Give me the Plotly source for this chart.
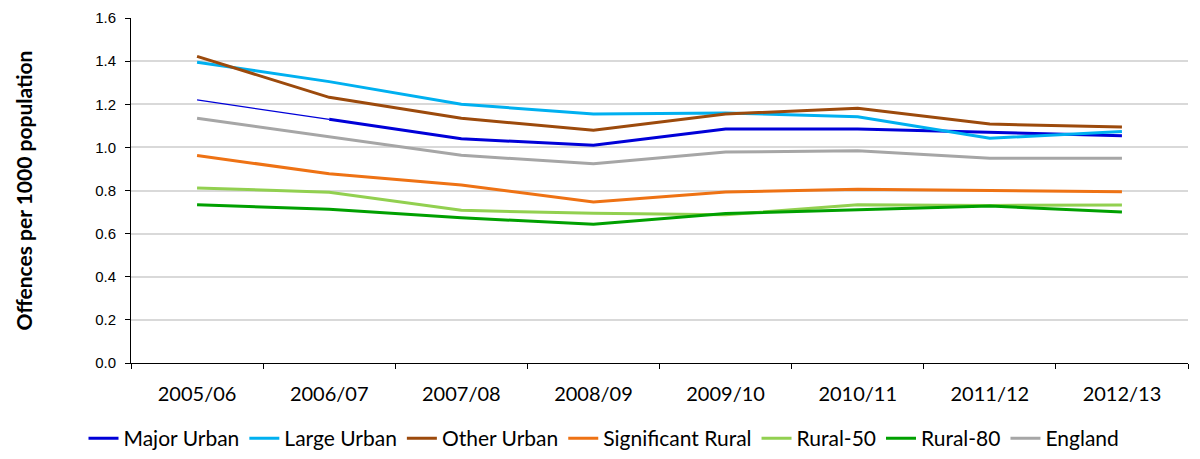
import plotly.graph_objects as go

years = ["2005/06", "2006/07", "2007/08", "2008/09", "2009/10", "2010/11", "2011/12", "2012/13"]

major_urban = [1.22, 1.13, 1.04, 1.01, 1.085, 1.085, 1.068, 1.054]
large_urban = [1.395, 1.305, 1.20, 1.155, 1.16, 1.142, 1.042, 1.074]
other_urban = [1.422, 1.232, 1.135, 1.08, 1.155, 1.181, 1.108, 1.095]
significant_rural = [0.962, 0.878, 0.826, 0.747, 0.793, 0.806, 0.800, 0.794]
rural_50 = [0.812, 0.792, 0.708, 0.694, 0.687, 0.734, 0.731, 0.733]
rural_80 = [0.734, 0.713, 0.674, 0.643, 0.693, 0.710, 0.728, 0.700]
england = [1.135, 1.05, 0.963, 0.924, 0.978, 0.984, 0.950, 0.950]

series = [
    ("Major Urban", major_urban, "#0000D8"),
    ("Large Urban", large_urban, "#00B0F0"),
    ("Other Urban", other_urban, "#9C4A0C"),
    ("Significant Rural", significant_rural, "#EE7214"),
    ("Rural-50", rural_50, "#92D050"),
    ("Rural-80", rural_80, "#00A000"),
    ("England", england, "#A6A6A6"),
]

fig = go.Figure()
for name, vals, color in series:
    if name == "Major Urban":
        # thin first segment (break in series)
        fig.add_trace(go.Scatter(x=years[:2], y=vals[:2], mode="lines",
                                 line=dict(color=color, width=1.2),
                                 showlegend=False, hoverinfo="skip"))
        fig.add_trace(go.Scatter(x=years[1:], y=vals[1:], mode="lines", name=name,
                                 line=dict(color=color, width=3)))
    else:
        fig.add_trace(go.Scatter(x=years, y=vals, mode="lines", name=name,
                                 line=dict(color=color, width=3)))

fig.update_layout(
    width=1192, height=451,
    margin=dict(l=123, r=12, t=10, b=96),
    plot_bgcolor="white", paper_bgcolor="white",
    font=dict(family="Lato, Open Sans, sans-serif", color="#000000"),
    showlegend=True,
    legend=dict(orientation="h", x=0.5, xanchor="center", xref="container",
                y=-0.016, yanchor="bottom", yref="container",
                font=dict(family="Lato, sans-serif", size=21, color="#000000"),
                itemwidth=30, tracegroupgap=0, traceorder="normal"),
    xaxis=dict(
        type="category", showgrid=False, showline=True, linecolor="#000000", linewidth=1,
        ticks="outside", tickson="boundaries", ticklen=5, tickcolor="#000000",
        tickfont=dict(family="Lato, sans-serif", size=20, color="#000000"),
        ticklabelstandoff=13, automargin=False,
        range=[-0.5, 7.5],
    ),
    yaxis=dict(
        range=[0, 1.6], dtick=0.2, tickformat=".1f",
        showgrid=True, gridcolor="#D9D9D9", gridwidth=2,
        showline=True, linecolor="#000000", linewidth=1,
        ticks="outside", ticklen=5, tickcolor="#000000",
        tickfont=dict(family="Liberation Sans, Arial, sans-serif", size=15, color="#000000"),
        ticklabelstandoff=6, automargin=False,
        title=dict(text="<b>Offences per 1000 population</b>",
                   font=dict(family="Lato, sans-serif", size=21, color="#000000"),
                   standoff=56),
        zeroline=False,
    ),
)

fig.write_html("out.html")
